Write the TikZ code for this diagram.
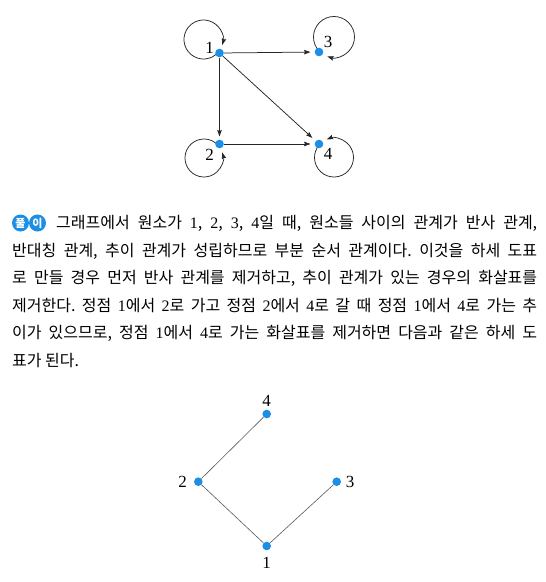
\documentclass[tikz,border=0pt]{standalone}
\usepackage{fontspec}
\setmainfont{Liberation Serif}
\newfontfamily\kr{Noto Sans CJK KR}
\usetikzlibrary{arrows.meta}
\definecolor{dotblue}{RGB}{28,142,230}
\newcommand\dg[1]{{\rmfamily #1}}
\frenchspacing
\begin{document}
\begin{tikzpicture}[x=1pt,y=1pt,
  vtx/.style={circle,fill=dotblue,inner sep=0pt,minimum size=8.6pt},
  lbl/.style={font=\fontsize{17}{17}\selectfont,inner sep=0pt},
  arr/.style={draw=black!85,line width=0.75pt,-{Stealth[length=6.5pt,width=4.5pt,inset=1pt]}},
  hasse/.style={draw=black!65,line width=0.6pt},
  txt/.style={anchor=base west,inner sep=0pt,font=\kr\fontsize{16}{18}\selectfont},
  badge/.style={circle,fill=dotblue,inner sep=0pt,minimum size=17pt,text=white,font=\kr\bfseries\fontsize{11}{11}\selectfont}]
\useasboundingbox (0,0) rectangle (546,-582);

% ---- top graph ----
\coordinate (c1) at (203.5,-39.5);
\coordinate (c2) at (204,-158);
\coordinate (c3) at (334,-37);
\coordinate (c4) at (334,-157.5);
\draw[arr] ([shift={(-40:19.5)}]c1) arc[start angle=-40,end angle=-376,radius=19.5];
\draw[arr] ([shift={(42:19)}]c2) arc[start angle=42,end angle=377,radius=19];
\draw[arr] ([shift={(-135:20.5)}]c3) arc[start angle=-135,end angle=-469,radius=20.5];
\draw[arr] ([shift={(138:19.5)}]c4) arc[start angle=138,end angle=472,radius=19.5];

\node[vtx] (a1) at (219.5,-53) {};
\node[vtx] (a2) at (219.5,-144) {};
\node[vtx] (a3) at (319,-52) {};
\node[vtx] (a4) at (319,-144) {};
\draw[arr,shorten >=4pt] (a1) -- (a3);
\draw[arr,shorten >=3pt] (a1) -- (a2);
\draw[arr,shorten >=4.5pt] (a1) -- (a4);
\draw[arr,shorten >=4pt] (a2) -- (a4);
\node[lbl] (la1) at (209.5,-47.5) {1};
\node[lbl] (la3) at (328,-42) {3};
\node[lbl] (la2) at (209.5,-155) {2};
\node[lbl] (la4) at (328,-154) {4};

% ---- text ----
\node[badge] (b1) at (20.5,-223) {풀};
\node[badge] (b2) at (37.5,-223) {이};
\node[txt] (t1) at (56,-228.8) {\makebox[481pt][s]{그래프에서 원소가 \dg{1}, \dg{2}, \dg{3}, \dg{4}일 때, 원소들 사이의 관계가 반사 관계,}};
\node[txt] (t2) at (12,-256.3) {\makebox[525pt][s]{반대칭 관계, 추이 관계가 성립하므로 부분 순서 관계이다. 이것을 하세 도표}};
\node[txt] (t3) at (12,-283.8) {\makebox[525pt][s]{로 만들 경우 먼저 반사 관계를 제거하고, 추이 관계가 있는 경우의 화살표를}};
\node[txt] (t4) at (12,-311.3) {\makebox[525pt][s]{제거한다. 정점 \dg{1}에서 \dg{2}로 가고 정점 \dg{2}에서 \dg{4}로 갈 때 정점 \dg{1}에서 \dg{4}로 가는 추}};
\node[txt] (t5) at (12,-338.8) {\makebox[525pt][s]{이가 있으므로, 정점 \dg{1}에서 \dg{4}로 가는 화살표를 제거하면 다음과 같은 하세 도}};
\node[txt] (t6) at (12,-366.3) {표가 된다.};

% ---- Hasse diagram ----
\node[vtx] (h4) at (266.7,-414) {};
\node[vtx] (h2) at (198.3,-481.7) {};
\node[vtx] (h3) at (336.7,-481.7) {};
\node[vtx] (h1) at (266.7,-546) {};
\draw[hasse] (h2) -- (h4);
\draw[hasse] (h2) -- (h1);
\draw[hasse] (h3) -- (h1);
\node[lbl] (lh4) at (266.7,-400.5) {4};
\node[lbl] (lh2) at (182.7,-481.7) {2};
\node[lbl] (lh3) at (350,-481.7) {3};
\node[lbl] (lh1) at (266.7,-563) {1};
\end{tikzpicture}
\end{document}
